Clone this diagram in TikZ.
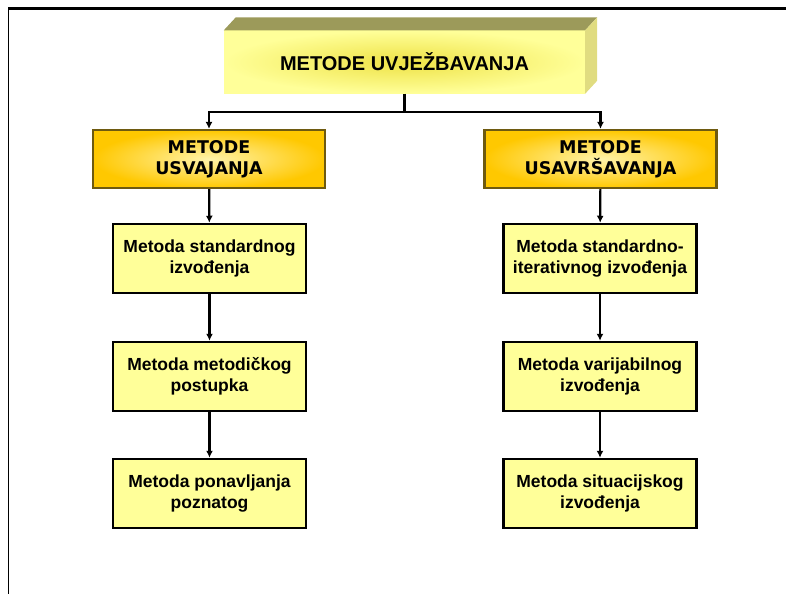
\documentclass[tikz,border=0pt]{standalone}
\usepackage{fontspec}
\setmainfont{Liberation Sans}
\newfontfamily\wideface{DejaVu Sans}
\usetikzlibrary{arrows.meta}

\definecolor{paleyellow}{RGB}{255,255,153}
\definecolor{glowyellow}{RGB}{238,226,70}
\definecolor{topside}{RGB}{156,154,90}
\definecolor{rightside}{RGB}{224,220,128}
\definecolor{gold}{RGB}{255,200,0}
\definecolor{lightgold}{RGB}{255,243,170}
\definecolor{goldedge}{RGB}{110,90,16}

\begin{document}
\begin{tikzpicture}[x=1pt,y=-1pt,
  mainbox/.style={minimum width=361pt,minimum height=63pt,inner sep=0pt,
    shade,inner color=glowyellow,outer color=paleyellow,
    font=\fontsize{20}{22}\selectfont\bfseries},
  groupbox/.style={minimum width=232pt,minimum height=58pt,inner sep=0pt,
    draw=goldedge,line width=2.2pt,shade,inner color=lightgold,outer color=gold,
    align=center,font=\wideface\fontsize{17.5}{21}\selectfont\bfseries},
  methodbox/.style={minimum width=193pt,minimum height=69pt,inner sep=0pt,
    draw,line width=2.5pt,fill=paleyellow,align=center,
    font=\fontsize{17.5}{20.5}\selectfont\bfseries},
  arr/.style={line width=2.2pt,-{Latex[length=7pt,width=7pt]}}]
\useasboundingbox (0,0) rectangle (786,594);

% frame
\draw [line width=2.2pt](8,8.5) -- (786,8.5);
\draw [line width=1.4pt](8.5,8) -- (8.5,594);

% top block with its 3d sides
\node [mainbox] (top) at (404.5,62){METODE UVJE\v{Z}BAVANJA};
\fill [topside](top.north west) -- ++(12,-13) -- ([shift={(12,-13)}]top.north east) -- (top.north east) -- cycle;
\fill [rightside](top.north east) -- ++(12,-13) -- ([shift={(12,-13)}]top.south east) -- (top.south east) -- cycle;

% two groups
\node [groupbox] (usv) at (209,159){METODE\\USVAJANJA};
\node [groupbox] (usav) at (600.5,159){METODE\\USAVR\v{S}AVANJA};

\coordinate (split) at (404.5,112);
\draw [line width=2.2pt](top.south) -- (split);
\draw [arr](split) -| (usv.north);
\draw [arr](split) -| (usav.north);

% left column
\node [methodbox] (std) at (209.5,258.5){Metoda standardnog\\izvo\dj enja};
\node [methodbox] (post) at (209.5,376.5){Metoda metodi\v{c}kog\\postupka};
\node [methodbox] (pon) at (209.5,493.5){Metoda ponavljanja\\poznatog};

% right column
\node [methodbox] (iter) at (600,258.5){Metoda standardno-\\iterativnog izvo\dj enja};
\node [methodbox] (var) at (600,376.5){Metoda varijabilnog\\izvo\dj enja};
\node [methodbox] (sit) at (600,493.5){Metoda situacijskog\\izvo\dj enja};

% arrows down
\draw [arr](usv) -- (std);
\draw [arr](std) -- (post);
\draw [arr](post) -- (pon);
\draw [arr](usav) -- (iter);
\draw [arr](iter) -- (var);
\draw [arr](var) -- (sit);
\end{tikzpicture}
\end{document}
